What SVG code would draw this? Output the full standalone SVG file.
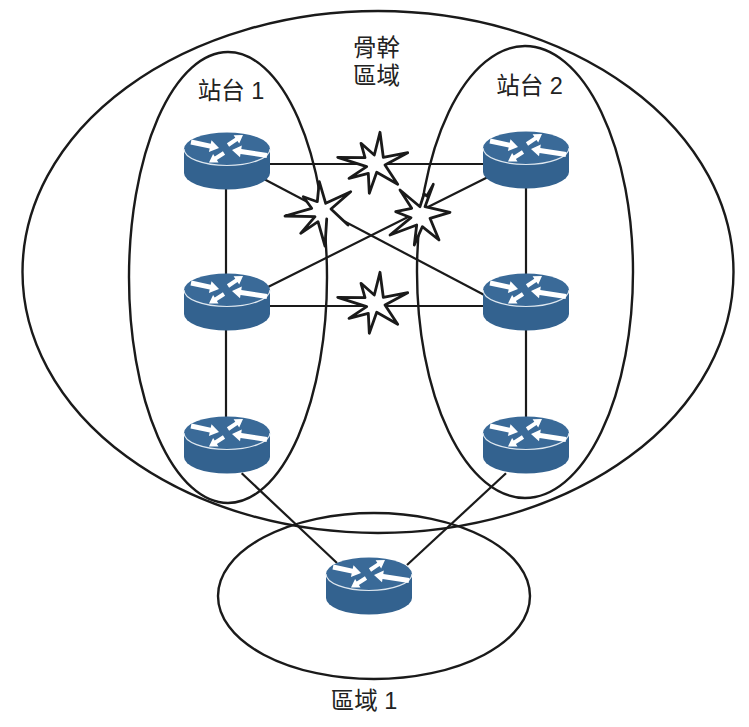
<svg xmlns="http://www.w3.org/2000/svg" xmlns:xlink="http://www.w3.org/1999/xlink" width="749" height="727" viewBox="0 0 749 727">
<style>
.area{fill:none;stroke:#1a1a1a;stroke-width:2.4}
.link{fill:none;stroke:#1a1a1a;stroke-width:2.2}
.star{fill:#fff;stroke:#1a1a1a;stroke-width:2.8;stroke-linejoin:round;stroke-linecap:round}
.lbl{font-family:"Liberation Sans","Noto Sans CJK TC",sans-serif;font-size:23.5px;fill:#222;text-anchor:middle}
.arr{fill:#fff}
</style>
<defs>
<g id="router">
<path d="M-43,-12 V12 A43,16.500 0 0 0 43,12 V-12 Z" fill="#33628f"/>
<ellipse cx="0" cy="-12" rx="43" ry="16.500" fill="#3a6a98"/>
<path d="M-43,-12 A43,16.500 0 0 0 43,-12" fill="none" stroke="#dfe8f0" stroke-width="1.200"/>
<polygon class="arr" points="-35.500,-21.400 -16.300,-17.300 -15.500,-20.800 -8,-13 -18.100,-9 -17.300,-12.500 -36.500,-16.600"/>
<polygon class="arr" points="-0.100,-17.700 8.300,-23.300 6.600,-25.800 16,-26 12.200,-17.400 10.500,-19.900 2.100,-14.300"/>
<polygon class="arr" points="40.400,-8 14.300,-12.100 14.800,-15.500 5,-11 13,-3.700 13.500,-7.100 39.600,-3"/>
<polygon class="arr" points="-4.100,-9.700 -12.300,-4.500 -13.900,-7 -18,1.500 -8.500,1.400 -10.100,-1.100 -1.900,-6.300"/>
</g>
<path id="burst" class="star" d="M380,132.300 L383.300,157.300 L407.700,152.700 L385,165 L397.700,184.300 L376.700,172.300 L369.300,193.300 L368.300,173.300 L349,178.300 L366.700,166.700 L337.700,157.300 L365,157.700 L361,143.300 L374.300,155 Z"/>
</defs>
<g id="areas">
<ellipse id="backbone-area" class="area" cx="378" cy="272" rx="355.500" ry="261"/>
<ellipse id="site-1" class="area" cx="228" cy="277.500" rx="99" ry="225.500"/>
<ellipse id="site-2" class="area" cx="525" cy="272" rx="108" ry="226"/>
<ellipse id="area-1" class="area" cx="374" cy="596" rx="156" ry="83"/>
</g>
<g id="connectors">
<line class="link" x1="268" y1="164" x2="484" y2="164"/>
<line class="link" x1="268" y1="306" x2="484" y2="306"/>
<line class="link" x1="262" y1="178" x2="490" y2="298"/>
<line class="link" x1="262" y1="290" x2="490" y2="176"/>
<line class="link" x1="226" y1="185" x2="226" y2="280"/>
<line class="link" x1="226" y1="325" x2="226" y2="420"/>
<line class="link" x1="526" y1="185" x2="526" y2="280"/>
<line class="link" x1="526" y1="325" x2="526" y2="420"/>
<line class="link" x1="241.700" y1="473.300" x2="337" y2="563"/>
<line class="link" x1="506" y1="473.300" x2="407" y2="565"/>
</g>
<g id="failures">
<use xlink:href="#burst" href="#burst"/>
<use xlink:href="#burst" href="#burst" y="140"/>
<path class="star" d="M348,225 L331,209 L350.700,191.700 L325.700,203.300 L319.300,181.700 L317.300,201.700 L303.300,196.700 L311.700,208.300 L285,216 L315,216.700 L300.700,233.300 L318,221.700 L325,246 L326.700,219"/>
<path class="star" d="M433.300,184.300 L425,206.700 L450,212.300 L430,218.300 L439,240 L422.300,226.700 L414.300,245 L416.700,225 L390,235 L411,217.700 L395.700,211.700 L411.700,208.300 L400,190 L420,206.700 L424,194 L427,196 Z"/>
</g>
<g id="r1"><use xlink:href="#router" href="#router" x="227" y="161"/></g>
<g id="r2"><use xlink:href="#router" href="#router" x="227" y="302"/></g>
<g id="r3"><use xlink:href="#router" href="#router" x="227" y="445"/></g>
<g id="r4"><use xlink:href="#router" href="#router" x="526" y="160"/></g>
<g id="r5"><use xlink:href="#router" href="#router" x="526" y="302"/></g>
<g id="r6"><use xlink:href="#router" href="#router" x="526" y="445"/></g>
<g id="r7"><use xlink:href="#router" href="#router" x="369" y="586"/></g>
<g id="labels">
<text class="lbl" x="376.500" y="56">骨幹</text>
<text class="lbl" x="376.500" y="84">區域</text>
<text class="lbl" x="231" y="99">站台 1</text>
<text class="lbl" x="529.500" y="94">站台 2</text>
<text class="lbl" x="364" y="709">區域 1</text>
</g>
</svg>
